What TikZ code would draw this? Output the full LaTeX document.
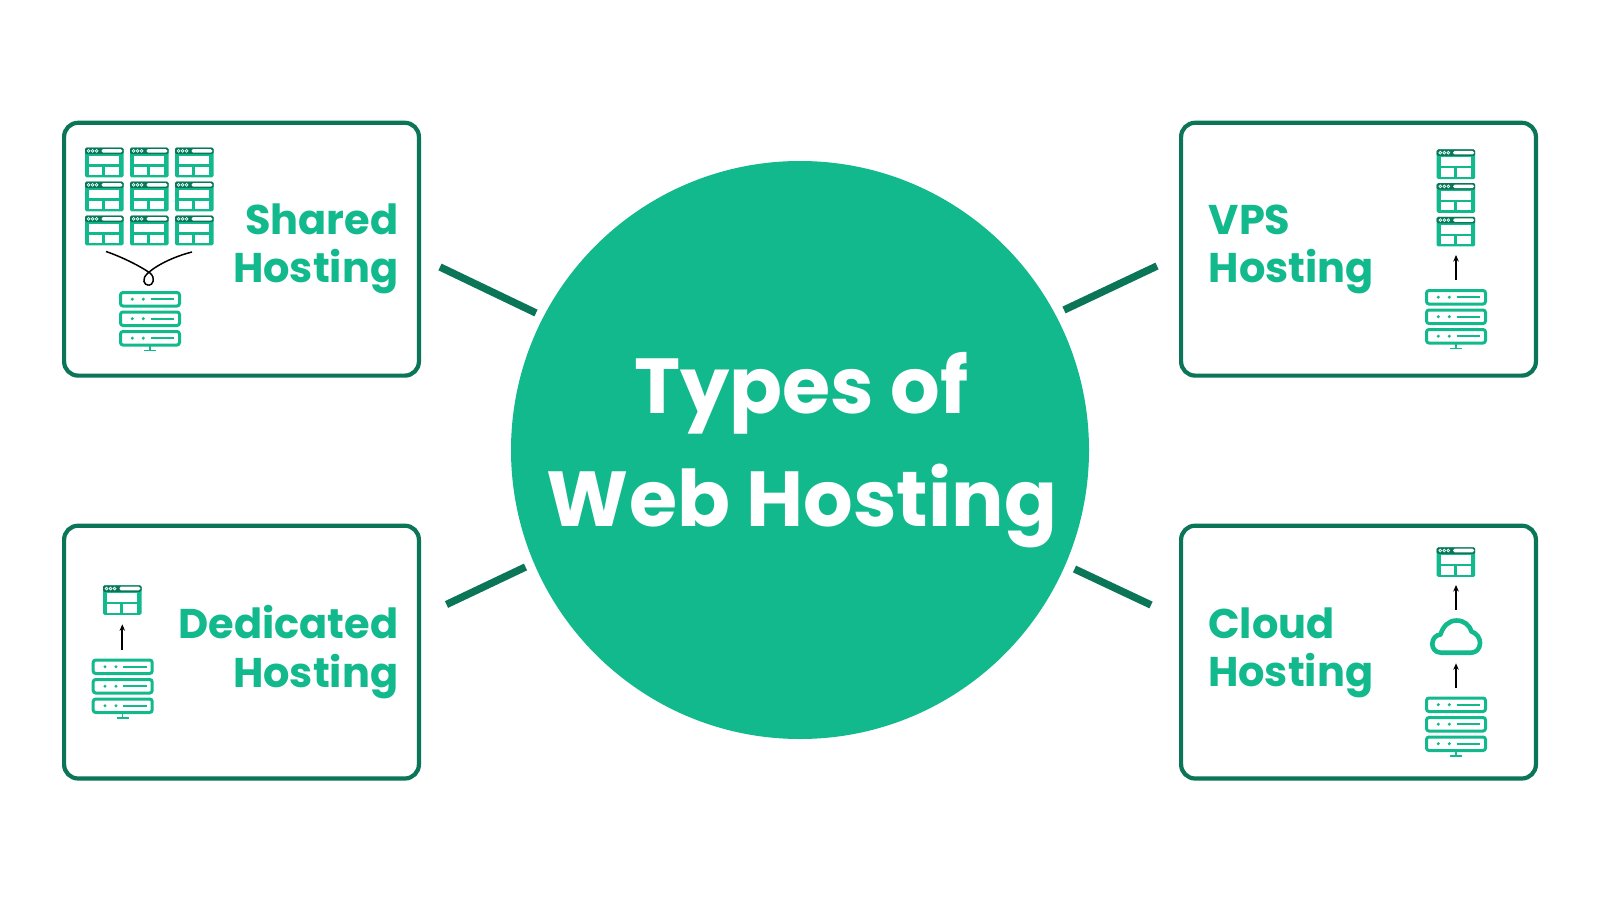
\documentclass[tikz,border=0pt]{standalone}
\usepackage{fontspec}
\usetikzlibrary{arrows.meta}
\setmainfont{Poppins}
\definecolor{teal1}{HTML}{12B98C}
\definecolor{dark1}{HTML}{0B7558}
\tikzset{
  x=1pt,y=-1pt,
  box/.style={draw=dark1,line width=4.2pt,rounded corners=14pt,fill=white,inner sep=0pt,anchor=north west,minimum width=354.8pt,minimum height=252.8pt},
  link/.style={draw=dark1,line width=7.4pt},
  lab/.style={text=teal1,font=\bfseries\fontsize{41.5}{48}\selectfont,inner sep=0pt},
  up/.style={draw=black,line width=2pt,-{Stealth[length=6.5pt,width=5.5pt]}},
  thread/.style={draw=black,line width=1.5pt},
  webpage/.pic={
    \fill[teal1,rounded corners=1.5pt] (0,0) rectangle (38.5,29.6);
    \fill[dark1,rounded corners=1.5pt] (0,0) rectangle (38.5,6.5);
    \fill[white,rounded corners=1.5pt] (16.5,1.4) rectangle (37.3,5);
    \foreach \cx in {3.6,7.6,11.6}{\fill[white] (\cx,3.2) circle (1.9pt);\fill[teal1] (\cx,3.2) circle (.8pt);}
    \fill[white] (4,8) rectangle (34.3,16.7);
    \fill[white] (4,19) rectangle (17.3,27.3);
    \fill[white] (20.3,19) rectangle (34.3,27.3);
  },
  serverrow/.pic={
    \draw[teal1,line width=3pt,rounded corners=2.5pt,fill=white] (1.5,1.5) rectangle (60.5,15);
    \fill[teal1] (13.3,8.2) circle (1.7pt) (24.3,8.2) circle (1.7pt);
    \draw[teal1,line width=2.4pt] (31.7,8.2) -- (55,8.2);
  },
  serverstack/.pic={
    \pic at (0,0) {serverrow};
    \pic at (0,19.5) {serverrow};
    \pic at (0,39) {serverrow};
    \draw[teal1,line width=1.5pt] (31,55) -- (31,59.4) (25,59.6) -- (37,59.6);
  },
}
\begin{document}
\begin{tikzpicture}
\useasboundingbox (0,0) rectangle (1600,901);
\fill[white] (0,0) rectangle (1600,901);
% connectors' end points
\coordinate (a1) at (440,267); \coordinate (a2) at (536,313);
\coordinate (b1) at (1157,266); \coordinate (b2) at (1064,310);
\coordinate (c1) at (446.5,604.5); \coordinate (c2) at (525.5,567);
\coordinate (d1) at (1151,605); \coordinate (d2) at (1074.5,569);
\draw[link] (a1) -- (a2);
\draw[link] (b1) -- (b2);
\draw[link] (c1) -- (c2);
\draw[link] (d1) -- (d2);
% centre
\node[circle,fill=teal1,minimum size=578pt,inner sep=0pt] (hub) at (800,450) {};
\node[text=white,font=\bfseries\fontsize{78}{90}\selectfont,inner sep=0pt,anchor=base] (t1) at (801.5,413) {Types of};
\node[text=white,font=\bfseries\fontsize{78}{90}\selectfont,inner sep=0pt,anchor=base] (t2) at (802,526.5) {Web Hosting};
% boxes
\node[box] (shared) at (62,120.7) {};
\node[box] (vps) at (1179,120.7) {};
\node[box] (ded) at (62,523.6) {};
\node[box] (cloud) at (1179,523.6) {};
% labels
\node[lab,anchor=base east] (s1) at (398.5,234.8) {Shared};
\node[lab,anchor=base east] (s2) at (398.5,283) {Hosting};
\node[lab,anchor=base west] (v1) at (1208.5,234.3) {VPS};
\node[lab,anchor=base west] (v2) at (1208.5,282.7) {Hosting};
\node[lab,anchor=base east] (d1t) at (398.5,638.8) {Dedicated};
\node[lab,anchor=base east] (d2t) at (398.5,687.2) {Hosting};
\node[lab,anchor=base west] (c1t) at (1208,638.3) {Cloud};
\node[lab,anchor=base west] (c2t) at (1208,686.7) {Hosting};
% shared icons
\foreach \ix in {0,1,2}\foreach \iy in {0,1,2}{\pic at ({85+45*\ix},{147.7+34*\iy}) {webpage};}
\pic at (119,291) {serverstack};
\coordinate (t1s) at (106,251.5); \coordinate (t2s) at (192,252); \coordinate (tb) at (148.7,285.3);
\draw[thread] (t1s) .. controls (122,257) and (140,266) .. (150,273) .. controls (156,278) and (153,285.3) .. (tb);
\draw[thread] (t2s) .. controls (176,256) and (158,264) .. (148,273) .. controls (141,279) and (144,285.3) .. (tb);
% VPS icons
\foreach \iy in {0,1,2}{\pic at (1436.7,{149.5+33.7*\iy}) {webpage};}
\pic at (1425,289) {serverstack};
\coordinate (va) at (1456,280); \coordinate (vb) at (1456,255);
\draw[up] (va) -- (vb);
% dedicated icons
\pic at (103,585.3) {webpage};
\pic at (91.7,658.5) {serverstack};
\coordinate (da) at (122.3,649.5); \coordinate (db) at (122.3,624.3);
\draw[up] (da) -- (db);
% cloud icons
\pic at (1436.7,547.3) {webpage};
\pic at (1425,696.5) {serverstack};
\coordinate (ca) at (1456,610); \coordinate (cb) at (1456,585);
\coordinate (cc) at (1456,688.3); \coordinate (cd) at (1456,663.3);
\draw[up] (ca) -- (cb);
\draw[up] (cc) -- (cd);
\draw[teal1,line width=4.6pt,line join=round,fill=white]
  (1441,652.7) .. controls (1435,652.7) and (1432.3,648) .. (1432.3,644)
  .. controls (1432.3,638.5) and (1436,635) .. (1440.5,634.5)
  .. controls (1443,626) and (1449,620.5) .. (1456.5,620.5)
  .. controls (1464,620.5) and (1469.5,625) .. (1471.5,631.5)
  .. controls (1477,633.5) and (1480,638) .. (1480,643)
  .. controls (1480,649) and (1476,652.7) .. (1471,652.7) -- cycle;
\end{tikzpicture}
\end{document}
